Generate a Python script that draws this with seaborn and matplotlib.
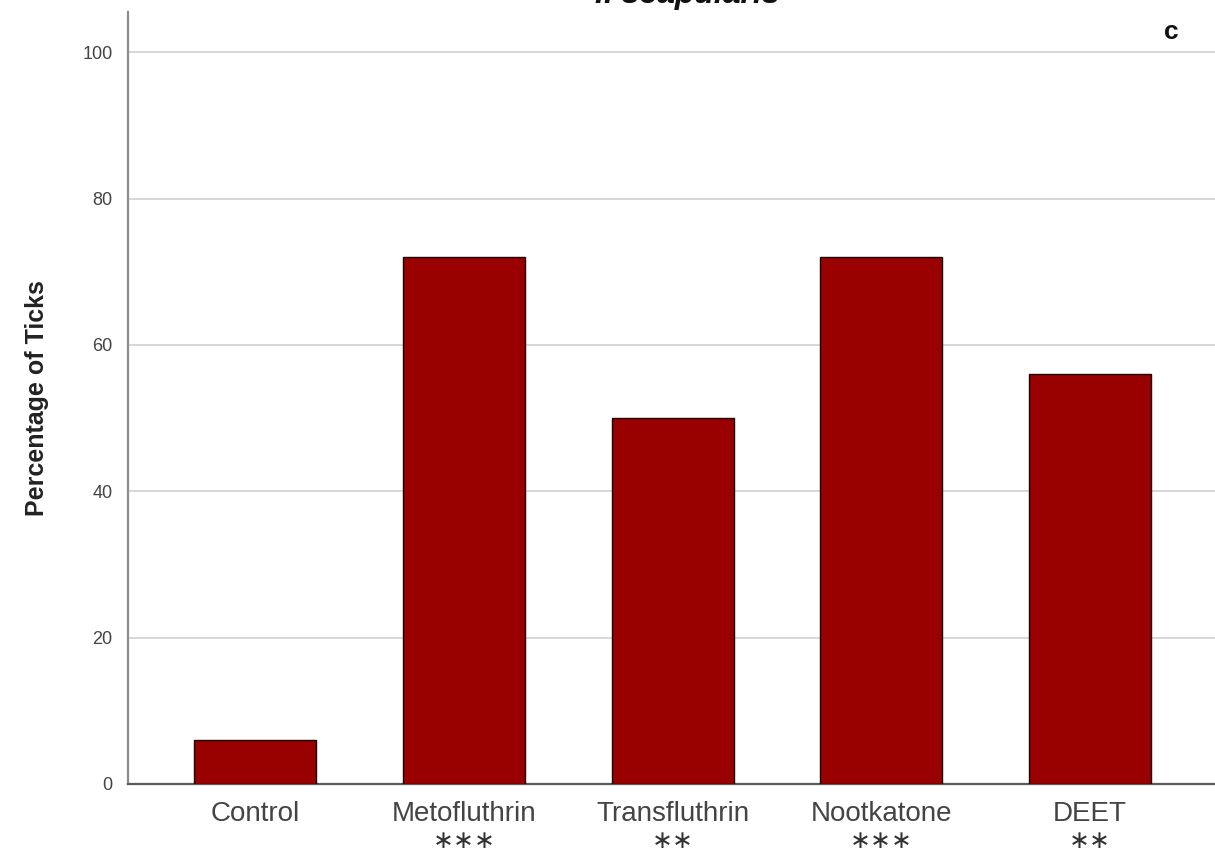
import matplotlib
matplotlib.use("Agg")
import matplotlib.pyplot as plt
import matplotlib.transforms as mtransforms
import seaborn as sns
import pandas as pd

# Repellency results per treatment
treatments = ["Control", "Metofluthrin", "Transfluthrin", "Nootkatone", "DEET"]
percent_ticks = [6, 72, 50, 72, 56]
significance = ["", "***", "**", "***", "**"]
y_ticks = [0, 20, 40, 60, 80, 100]

df = pd.DataFrame({"Treatment": treatments, "Percent": percent_ticks})

sns.set_theme(style="white")
plt.rcParams["font.family"] = ["Liberation Sans", "DejaVu Sans"]

fig = plt.figure(figsize=(12.15, 8.56), dpi=100)
ax = fig.add_axes([128 / 1215, 1 - 784 / 856, 1 - 128 / 1215, (784 - 12) / 856])

sns.barplot(data=df, x="Treatment", y="Percent", color="#990000",
            width=0.585, saturation=1, edgecolor="#1a0000", linewidth=1.0,
            ax=ax, zorder=3)

ax.set_xlim(-0.61, 4.6)
ax.set_ylim(0, 105.5)
ax.set_yticks(y_ticks)
ax.set_yticklabels([str(v) for v in y_ticks], fontsize=13, color="#444444")
ax.yaxis.grid(True, color="#d4d4d4", linewidth=1.3, zorder=0)
ax.set_axisbelow(True)
ax.tick_params(axis="both", length=0)
ax.tick_params(axis="y", pad=11)
ax.tick_params(axis="x", pad=12)
ax.set_xticks(range(len(treatments)))
ax.set_xticklabels(treatments, fontsize=20, color="#444444")

for side in ["top", "right"]:
    ax.spines[side].set_visible(False)
ax.spines["left"].set_color("#8c8c8c")
ax.spines["left"].set_linewidth(1.6)
ax.spines["bottom"].set_color("#5a5a5a")
ax.spines["bottom"].set_linewidth(1.6)

ax.set_xlabel("")
ax.set_ylabel("Percentage of Ticks", fontsize=18, fontweight="bold",
              color="#222222", labelpad=24)

# Significance stars under the category labels (centred asterisk operator)
trans = mtransforms.blended_transform_factory(ax.transData, fig.transFigure)
for i, s in enumerate(significance):
    if s:
        ax.text(i, 1 - 841 / 856, s.replace("*", "\u2217"), transform=trans,
                ha="center", va="center", fontsize=18, color="#333333",
                family="DejaVu Sans")

# Title (partly outside the top edge) and panel letter
fig.text(687 / 1215, 1 - 3 / 856, "I. scapularis", ha="center", va="baseline",
         fontsize=23, fontweight="bold", fontstyle="italic", color="#111111")
fig.text(1171 / 1215, 1 - 39 / 856, "c", ha="center", va="baseline",
         fontsize=19, fontweight="bold", color="#111111")

fig.savefig("out.png", dpi=100)
